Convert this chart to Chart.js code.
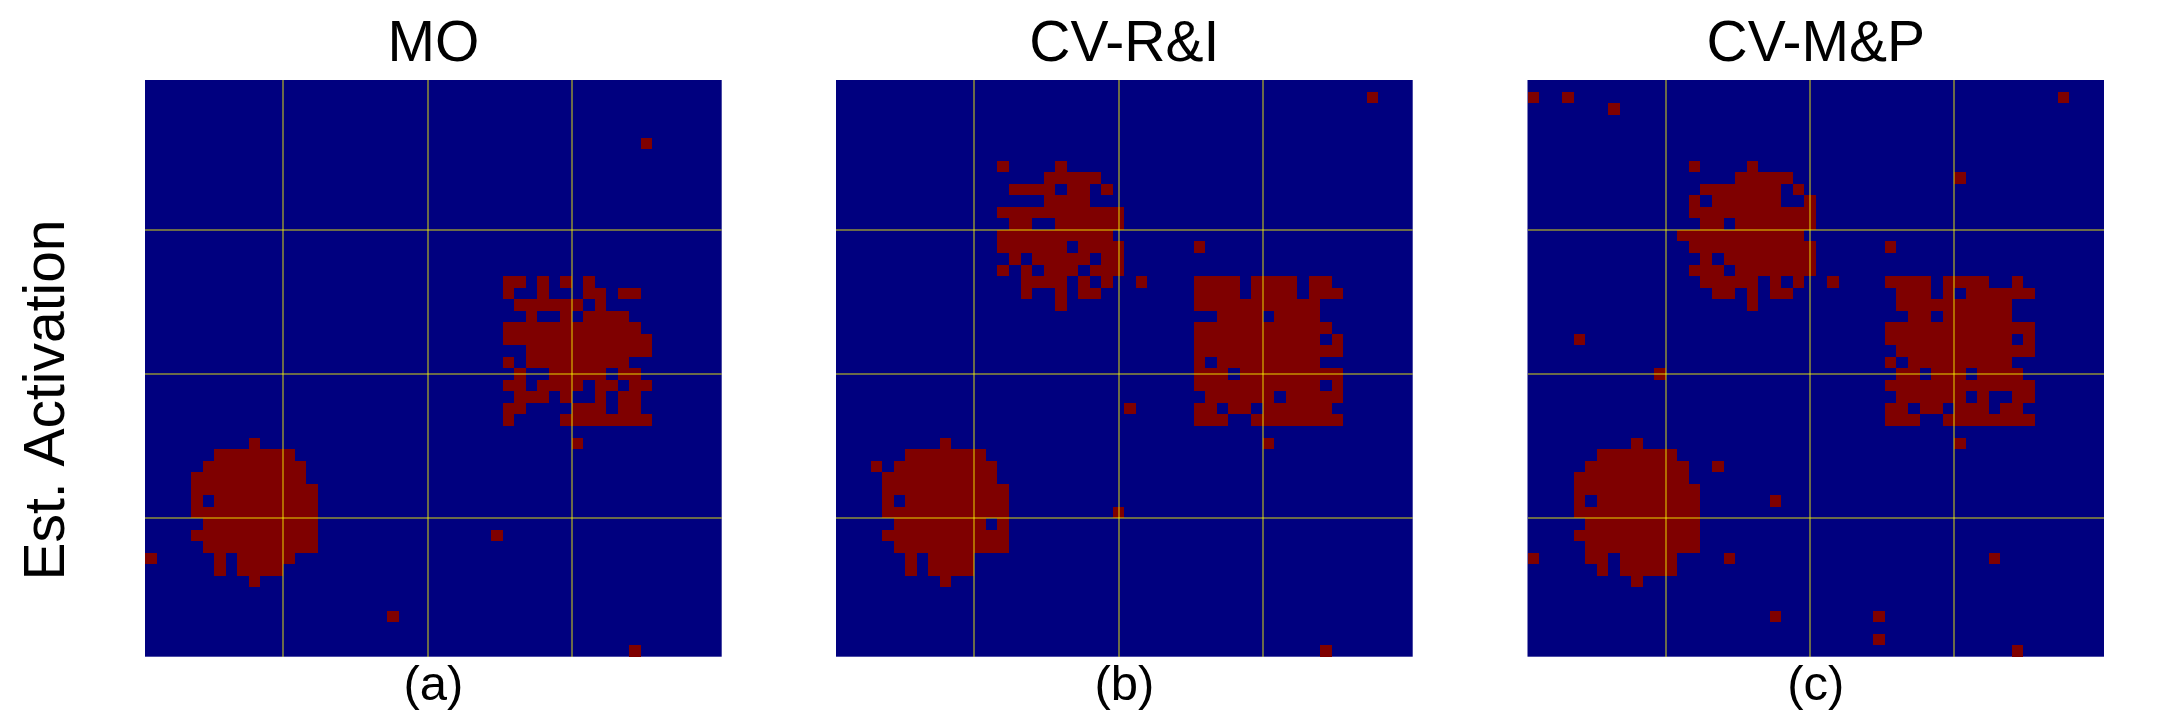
<!DOCTYPE html>
<html>
<head>
<meta charset="utf-8">
<style>
html,body{margin:0;padding:0;background:#fff;width:2160px;height:720px;overflow:hidden}
canvas{position:absolute;top:0}
</style>
<script src="https://cdn.jsdelivr.net/npm/chart.js@4"></script>
</head>
<body>
<canvas id="c0" width="760" height="720" style="left:0"></canvas>
<canvas id="c1" width="640" height="720" style="left:800px"></canvas>
<canvas id="c2" width="640" height="720" style="left:1490px"></canvas>
<script>
const panelTitles = ["MO", "CV-R&I", "CV-M&P"];
const panelCaptions = ["(a)", "(b)", "(c)"];
const yAxisLabel = "Est. Activation    ";
const gridSize = 50;
const gridLinesAt = [12, 24.5, 37];

// Active cells per panel as [row from top, first column, last column]
const moSpans = [
  [5,43,43],
  [17,31,32],[17,34,34],[17,36,36],[17,38,38],
  [18,31,31],[18,34,34],[18,38,39],[18,41,42],
  [19,32,37],[19,39,39],
  [20,33,33],[20,36,36],[20,38,41],
  [21,31,42],
  [22,31,43],
  [23,33,43],
  [24,31,31],[24,33,41],
  [25,32,32],[25,35,39],[25,41,42],
  [26,31,32],[26,34,37],[26,39,40],[26,42,43],
  [27,32,34],[27,36,36],[27,39,39],[27,41,42],
  [28,31,32],[28,37,39],[28,41,42],
  [29,31,31],[29,36,43],
  [31,37,37],[31,9,9],
  [32,6,12],
  [33,5,13],
  [34,4,13],
  [35,4,14],
  [36,4,4],[36,6,14],
  [37,4,14],
  [38,5,14],
  [39,4,14],[39,30,30],
  [40,5,14],
  [41,0,0],[41,6,6],[41,8,12],
  [42,6,6],[42,8,11],
  [43,9,9],
  [46,21,21],
  [49,42,42]
];
const cvRISpans = [
  [1,46,46],
  [7,14,14],[7,19,19],
  [8,18,22],
  [9,15,18],[9,20,21],[9,23,23],
  [10,18,21],
  [11,14,24],
  [12,15,16],[12,19,24],
  [13,14,23],
  [14,14,19],[14,21,24],[14,31,31],
  [15,15,15],[15,17,21],[15,23,24],
  [16,14,14],[16,16,16],[16,18,20],[16,22,24],
  [17,16,19],[17,21,21],[17,23,23],[17,26,26],[17,31,34],[17,36,39],[17,41,42],
  [18,16,16],[18,19,19],[18,21,22],[18,31,34],[18,36,39],[18,41,43],
  [19,19,19],[19,31,41],
  [20,33,36],[20,38,41],
  [21,31,42],
  [22,31,41],[22,43,43],
  [23,31,43],
  [24,31,31],[24,33,41],
  [25,31,33],[25,35,43],
  [26,31,41],[26,43,43],
  [27,32,37],[27,39,43],
  [28,25,25],[28,31,32],[28,34,35],[28,37,42],
  [29,31,33],[29,36,43],
  [31,9,9],[31,37,37],
  [32,6,12],
  [33,3,3],[33,5,13],
  [34,4,13],
  [35,4,14],
  [36,4,4],[36,6,14],
  [37,4,14],[37,24,24],
  [38,5,12],[38,14,14],
  [39,4,14],
  [40,5,14],
  [41,6,6],[41,8,11],
  [42,6,6],[42,8,11],
  [43,9,9],
  [49,42,42]
];
const cvMPSpans = [
  [1,0,0],[1,3,3],[1,46,46],
  [2,7,7],
  [7,14,14],[7,19,19],
  [8,18,22],[8,37,37],
  [9,15,21],[9,23,23],
  [10,14,14],[10,16,21],[10,24,24],
  [11,14,24],
  [12,15,16],[12,18,24],
  [13,13,23],
  [14,14,24],[14,31,31],
  [15,15,15],[15,17,24],
  [16,14,16],[16,18,24],
  [17,15,19],[17,21,21],[17,23,23],[17,26,26],[17,31,34],[17,36,39],[17,42,42],
  [18,16,17],[18,19,19],[18,21,22],[18,32,34],[18,36,36],[18,38,43],
  [19,19,19],[19,32,41],
  [20,33,34],[20,36,41],
  [21,31,43],
  [22,4,4],[22,31,41],[22,43,43],
  [23,32,43],
  [24,31,31],[24,33,41],
  [25,11,11],[25,32,33],[25,35,37],[25,39,42],
  [26,31,43],
  [27,32,37],[27,39,39],[27,42,43],
  [28,31,32],[28,34,35],[28,37,39],[28,41,42],
  [29,31,33],[29,36,43],
  [31,9,9],[31,37,37],
  [32,6,12],
  [33,5,13],[33,16,16],
  [34,4,13],
  [35,4,14],
  [36,4,4],[36,6,14],[36,21,21],
  [37,4,14],
  [38,5,14],
  [39,4,14],
  [40,5,14],
  [41,0,0],[41,5,6],[41,8,12],[41,17,17],[41,40,40],
  [42,6,6],[42,8,12],
  [43,9,9],
  [46,21,21],[46,30,30],
  [48,30,30],
  [49,42,42]
];
const panelSpans = [moSpans, cvRISpans, cvMPSpans];

function toPoints(spans){
  const pts = [];
  for (const [row, a, b] of spans)
    for (let c = a; c <= b; c++) pts.push({x: c + 0.5, y: gridSize - row - 0.5});
  return pts;
}

const fontFamily = '"Liberation Sans", Arial, sans-serif';
const navy = '#00007f', darkRed = '#7f0000';
const plotBg = {
  id: 'plotBg',
  beforeDraw(chart){
    const {ctx, chartArea: a} = chart;
    ctx.save(); ctx.fillStyle = navy;
    ctx.fillRect(a.left, a.top, a.right - a.left, a.bottom - a.top);
    ctx.restore();
  }
};
const cellPainter = {
  id: 'cellPainter',
  beforeDatasetDraw(chart, args){
    const {ctx, scales: {x, y}} = chart;
    ctx.save();
    ctx.fillStyle = darkRed;
    for (const p of chart.data.datasets[args.index].data) {
      const l = Math.round(x.getPixelForValue(p.x - 0.5));
      const r = Math.round(x.getPixelForValue(p.x + 0.5));
      const t = Math.round(y.getPixelForValue(p.y + 0.5));
      const b = Math.round(y.getPixelForValue(p.y - 0.5));
      ctx.fillRect(l, t, r - l, b - t);
    }
    ctx.restore();
    return false;
  }
};
const setTicks = scale => { scale.ticks = gridLinesAt.map(v => ({value: v})); };
const gridOpts = {color: 'rgba(255,255,0,0.42)', lineWidth: 2, drawTicks: false, z: 1};

const pads = [
  {left: 0, right: 38.3},
  {left: 36, right: 27.3},
  {left: 37.5, right: 26}
];

panelTitles.forEach((title, i) => {
  new Chart(document.getElementById('c' + i), {
    type: 'scatter',
    data: {datasets: [{
      label: title,
      data: toPoints(panelSpans[i]),
      pointStyle: 'rect',
      pointRadius: 8.2,
      pointHoverRadius: 8.2,
      pointBorderWidth: 0,
      backgroundColor: darkRed,
      borderColor: darkRed,
      showLine: false
    }]},
    options: {
      responsive: false,
      animation: false,
      layout: {padding: {left: pads[i].left, right: pads[i].right, top: 0, bottom: 0}},
      plugins: {
        legend: {display: false},
        tooltip: {enabled: false},
        title: {
          display: true, text: title, color: '#000', fullSize: false,
          font: {family: fontFamily, size: 57, weight: 'normal', lineHeight: 1},
          padding: {top: 16.5, bottom: 6.5}
        }
      },
      scales: {
        x: {
          type: 'linear', min: 0, max: gridSize,
          afterBuildTicks: setTicks,
          ticks: {display: false, autoSkip: false},
          border: {display: false},
          grid: gridOpts,
          title: {
            display: true, text: panelCaptions[i], color: '#000',
            font: {family: fontFamily, size: 49, weight: 'normal', lineHeight: 1},
            padding: {top: 4.8, bottom: 9.5}
          }
        },
        y: {
          type: 'linear', min: 0, max: gridSize,
          afterBuildTicks: setTicks,
          ticks: {display: false, autoSkip: false},
          border: {display: false},
          grid: gridOpts,
          title: {
            display: i === 0, text: yAxisLabel, color: '#000',
            font: {family: fontFamily, size: 57, weight: 'normal', lineHeight: 1},
            padding: {top: 20, bottom: 68}
          }
        }
      }
    },
    plugins: [plotBg, cellPainter]
  });
});
</script>
</body>
</html>
